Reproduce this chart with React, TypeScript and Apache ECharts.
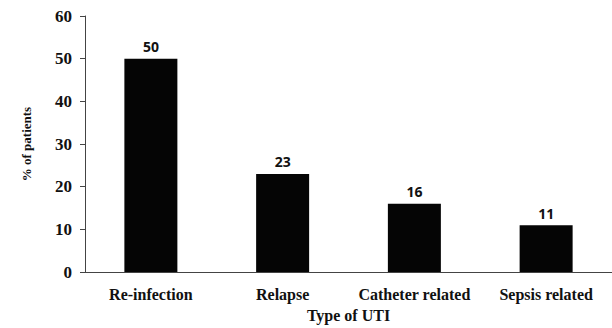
import React, { useEffect, useRef } from "react";
import * as echarts from "echarts";

const categories = ["Re-infection", "Relapse", "Catheter related", "Sepsis related"];
const values = [50, 23, 16, 11];
const yTicks = { min: 0, max: 60, interval: 10 };

export default function App() {
  const ref = useRef<HTMLDivElement>(null);
  useEffect(() => {
    const chart = echarts.init(ref.current!, null, { renderer: "svg" });
    const serif = "'Liberation Serif', 'Times New Roman', serif";
    chart.setOption({
      animation: false,
      backgroundColor: "#ffffff",
      grid: { left: 85, right: -3, top: 16, bottom: 49, containLabel: false },
      xAxis: {
        type: "category",
        data: categories,
        axisLine: { show: true, lineStyle: { color: "#444", width: 1 } },
        axisTick: { show: false },
        axisLabel: { interval: 0, color: "#111", fontFamily: serif, fontWeight: "bold", fontSize: 16, margin: 14 },
        name: "Type of UTI",
        nameLocation: "middle",
        nameGap: 34,
        nameTextStyle: { color: "#111", fontFamily: serif, fontWeight: "bold", fontSize: 16 },
      },
      yAxis: {
        type: "value",
        min: yTicks.min,
        max: yTicks.max,
        interval: yTicks.interval,
        axisLine: { show: true, lineStyle: { color: "#444", width: 1 } },
        axisTick: { show: true, length: 5, lineStyle: { color: "#444" } },
        splitLine: { show: false },
        axisLabel: { color: "#111", fontFamily: serif, fontWeight: "bold", fontSize: 17, margin: 13 },
        name: "% of patients",
        nameLocation: "middle",
        nameGap: 52,
        nameRotate: 90,
        nameTextStyle: { color: "#111", fontFamily: serif, fontWeight: "bold", fontSize: 13 },
      },
      series: [
        {
          type: "bar",
          data: values,
          barWidth: 53,
          itemStyle: { color: "#050505" },
          label: {
            show: true,
            position: "top",
            distance: 5,
            color: "#111",
            fontFamily: "'Open Sans', 'Noto Sans', sans-serif",
            fontWeight: "bold",
            fontSize: 14,
          },
        },
      ],
    });
    return () => chart.dispose();
  }, []);
  return <div ref={ref} style={{ width: 612, height: 328, position: "absolute", left: 0, top: 0 }} />;
}
